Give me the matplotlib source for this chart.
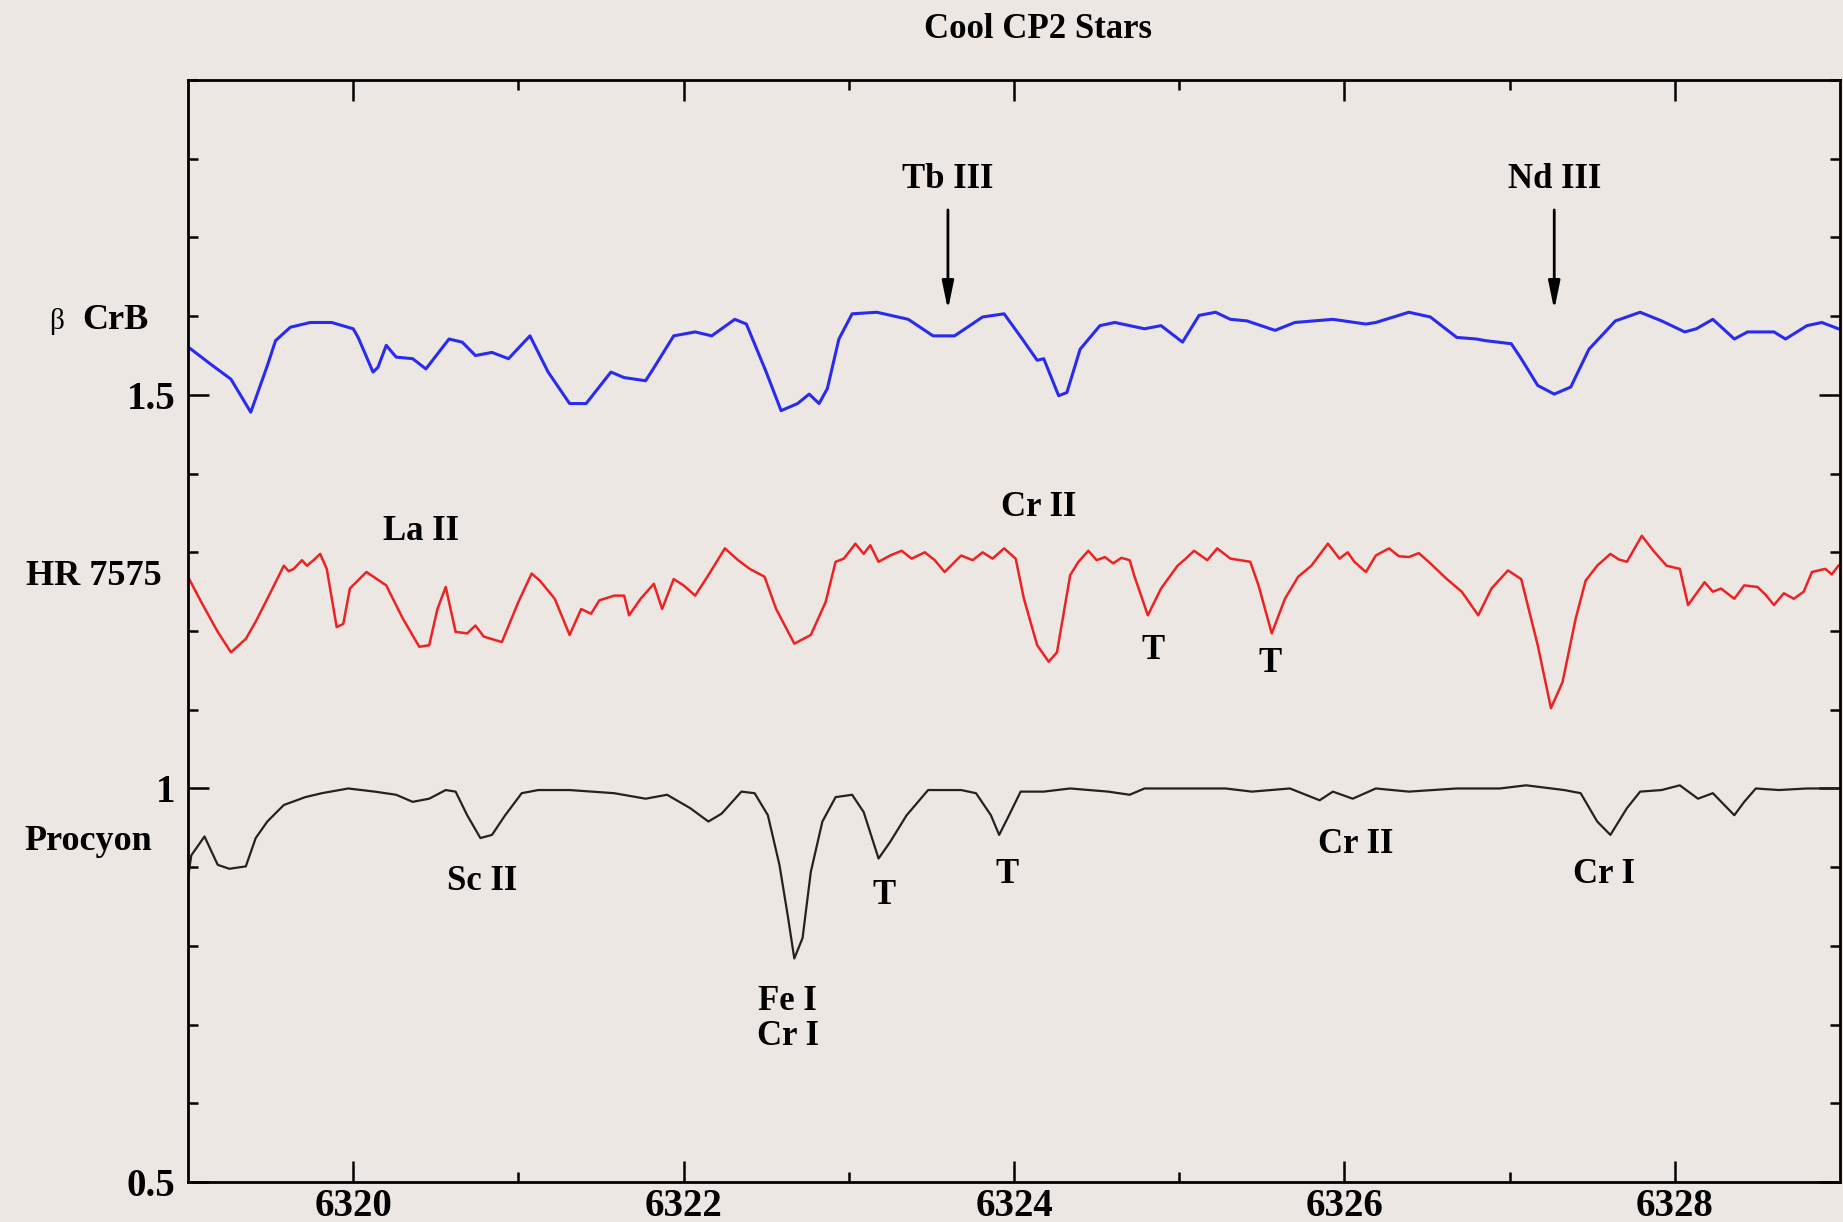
import matplotlib
matplotlib.use("Agg")
import matplotlib.pyplot as plt
from matplotlib.ticker import MultipleLocator, FixedLocator

# beta CrB (blue, offset spectrum)
blue_wl = [6319.00, 6319.15, 6319.26, 6319.38, 6319.48, 6319.53, 6319.62, 6319.74,
           6319.87, 6320.00, 6320.03, 6320.12, 6320.15, 6320.20, 6320.26, 6320.36,
           6320.44, 6320.58, 6320.66, 6320.74, 6320.84, 6320.94, 6321.07, 6321.18,
           6321.31, 6321.41, 6321.56, 6321.64, 6321.77, 6321.81, 6321.94, 6322.07,
           6322.17, 6322.31, 6322.38, 6322.50, 6322.59, 6322.69, 6322.76, 6322.82,
           6322.87, 6322.94, 6323.02, 6323.17, 6323.36, 6323.51, 6323.64, 6323.81,
           6323.94, 6324.05, 6324.14, 6324.18, 6324.27, 6324.32, 6324.40, 6324.52,
           6324.61, 6324.79, 6324.89, 6325.02, 6325.12, 6325.22, 6325.31, 6325.41,
           6325.58, 6325.70, 6325.93, 6326.13, 6326.19, 6326.39, 6326.52, 6326.68,
           6326.80, 6326.85, 6327.01, 6327.07, 6327.17, 6327.27, 6327.37, 6327.48,
           6327.64, 6327.79, 6327.92, 6328.06, 6328.13, 6328.23, 6328.36, 6328.44,
           6328.60, 6328.67, 6328.80, 6328.89, 6328.99]
blue_flux = [1.561, 1.537, 1.520, 1.478, 1.537, 1.569, 1.586, 1.592,
             1.592, 1.584, 1.573, 1.529, 1.535, 1.563, 1.548, 1.546,
             1.533, 1.571, 1.567, 1.550, 1.554, 1.546, 1.575, 1.529,
             1.489, 1.489, 1.529, 1.522, 1.518, 1.531, 1.575, 1.580,
             1.575, 1.596, 1.590, 1.529, 1.480, 1.489, 1.501, 1.489,
             1.508, 1.571, 1.603, 1.605, 1.596, 1.575, 1.575, 1.599,
             1.603, 1.571, 1.544, 1.546, 1.499, 1.503, 1.558, 1.588,
             1.592, 1.584, 1.588, 1.567, 1.601, 1.605, 1.596, 1.594,
             1.582, 1.592, 1.596, 1.590, 1.592, 1.605, 1.599, 1.573,
             1.571, 1.569, 1.565, 1.546, 1.512, 1.501, 1.510, 1.558,
             1.594, 1.605, 1.594, 1.580, 1.584, 1.596, 1.571, 1.580,
             1.580, 1.571, 1.588, 1.592, 1.584]

# HR 7575 (red)
red_wl = [6319.00, 6319.08, 6319.18, 6319.26, 6319.35, 6319.41, 6319.49, 6319.58,
          6319.61, 6319.64, 6319.69, 6319.72, 6319.76, 6319.80, 6319.84, 6319.90,
          6319.94, 6319.98, 6320.08, 6320.20, 6320.30, 6320.40, 6320.46, 6320.51,
          6320.56, 6320.62, 6320.69, 6320.74, 6320.79, 6320.90, 6321.00, 6321.08,
          6321.13, 6321.22, 6321.31, 6321.38, 6321.44, 6321.49, 6321.58, 6321.64,
          6321.67, 6321.74, 6321.82, 6321.87, 6321.94, 6322.00, 6322.07, 6322.15,
          6322.25, 6322.33, 6322.40, 6322.49, 6322.56, 6322.67, 6322.77, 6322.86,
          6322.92, 6322.97, 6323.04, 6323.09, 6323.13, 6323.18, 6323.25, 6323.32,
          6323.38, 6323.46, 6323.52, 6323.58, 6323.68, 6323.75, 6323.81, 6323.87,
          6323.94, 6324.01, 6324.06, 6324.14, 6324.21, 6324.26, 6324.34, 6324.39,
          6324.45, 6324.50, 6324.55, 6324.60, 6324.65, 6324.70, 6324.73, 6324.81,
          6324.89, 6324.99, 6325.04, 6325.09, 6325.17, 6325.23, 6325.31, 6325.43,
          6325.48, 6325.56, 6325.64, 6325.72, 6325.80, 6325.90, 6325.97, 6326.02,
          6326.06, 6326.13, 6326.19, 6326.27, 6326.33, 6326.39, 6326.45, 6326.52,
          6326.62, 6326.71, 6326.81, 6326.89, 6326.99, 6327.07, 6327.17, 6327.25,
          6327.32, 6327.40, 6327.46, 6327.53, 6327.61, 6327.66, 6327.71, 6327.80,
          6327.87, 6327.95, 6328.03, 6328.08, 6328.18, 6328.23, 6328.28, 6328.36,
          6328.42, 6328.50, 6328.55, 6328.60, 6328.66, 6328.72, 6328.78, 6328.83,
          6328.91, 6328.95, 6328.99]
red_flux = [1.269, 1.237, 1.199, 1.173, 1.190, 1.212, 1.245, 1.283,
            1.276, 1.279, 1.290, 1.283, 1.290, 1.298, 1.279, 1.205,
            1.209, 1.254, 1.275, 1.258, 1.216, 1.180, 1.182, 1.228,
            1.256, 1.199, 1.197, 1.207, 1.193, 1.186, 1.237, 1.273,
            1.264, 1.241, 1.195, 1.228, 1.222, 1.239, 1.245, 1.245,
            1.220, 1.241, 1.260, 1.228, 1.266, 1.258, 1.245, 1.271,
            1.305, 1.290, 1.279, 1.269, 1.228, 1.184, 1.195, 1.237,
            1.288, 1.292, 1.311, 1.298, 1.309, 1.288, 1.296, 1.302,
            1.292, 1.300, 1.290, 1.275, 1.296, 1.290, 1.300, 1.292,
            1.305, 1.292, 1.241, 1.182, 1.161, 1.173, 1.271, 1.288,
            1.302, 1.290, 1.294, 1.286, 1.293, 1.290, 1.269, 1.220,
            1.254, 1.283, 1.292, 1.302, 1.290, 1.305, 1.292, 1.288,
            1.258, 1.197, 1.241, 1.269, 1.283, 1.311, 1.292, 1.300,
            1.288, 1.275, 1.296, 1.305, 1.295, 1.294, 1.299, 1.286,
            1.266, 1.250, 1.220, 1.254, 1.277, 1.266, 1.182, 1.102,
            1.135, 1.216, 1.264, 1.283, 1.298, 1.291, 1.288, 1.321,
            1.302, 1.283, 1.279, 1.233, 1.262, 1.250, 1.254, 1.241,
            1.258, 1.256, 1.246, 1.233, 1.248, 1.241, 1.250, 1.275,
            1.279, 1.272, 1.283]

# Procyon (black, normalised)
black_wl = [6319.00, 6319.02, 6319.10, 6319.18, 6319.25, 6319.35, 6319.41, 6319.48,
            6319.58, 6319.71, 6319.81, 6319.97, 6320.13, 6320.26, 6320.36, 6320.46,
            6320.56, 6320.62, 6320.69, 6320.77, 6320.84, 6320.92, 6321.02, 6321.12,
            6321.31, 6321.58, 6321.77, 6321.90, 6322.04, 6322.15, 6322.23, 6322.35,
            6322.43, 6322.51, 6322.58, 6322.63, 6322.67, 6322.72, 6322.77, 6322.84,
            6322.92, 6323.02, 6323.09, 6323.18, 6323.25, 6323.35, 6323.48, 6323.68,
            6323.77, 6323.86, 6323.91, 6323.97, 6324.04, 6324.18, 6324.34, 6324.57,
            6324.70, 6324.79, 6325.02, 6325.28, 6325.44, 6325.67, 6325.85, 6325.93,
            6326.05, 6326.19, 6326.39, 6326.68, 6326.94, 6327.10, 6327.33, 6327.43,
            6327.53, 6327.61, 6327.71, 6327.79, 6327.92, 6328.03, 6328.14, 6328.23,
            6328.36, 6328.42, 6328.49, 6328.63, 6328.80, 6328.99]
black_flux = [0.886, 0.915, 0.939, 0.903, 0.898, 0.901, 0.937, 0.958,
              0.979, 0.989, 0.994, 1.000, 0.996, 0.992, 0.983, 0.987,
              0.998, 0.996, 0.966, 0.937, 0.941, 0.966, 0.994, 0.998,
              0.998, 0.994, 0.987, 0.992, 0.975, 0.958, 0.968, 0.996,
              0.994, 0.966, 0.903, 0.839, 0.784, 0.810, 0.894, 0.958,
              0.989, 0.992, 0.970, 0.911, 0.932, 0.966, 0.998, 0.998,
              0.994, 0.966, 0.941, 0.966, 0.996, 0.996, 1.000, 0.996,
              0.992, 1.000, 1.000, 1.000, 0.996, 1.000, 0.985, 0.996,
              0.987, 1.000, 0.996, 1.000, 1.000, 1.004, 0.998, 0.994,
              0.958, 0.941, 0.975, 0.996, 0.998, 1.004, 0.987, 0.994,
              0.966, 0.983, 1.000, 0.998, 1.000, 1.000]

# line identifications
line_labels = ["La II", "Cr II", "T", "T", "Sc II", "T", "T", "Fe I\nCr I", "Cr II", "Cr I"]
line_wl = [6320.41, 6324.15, 6324.84, 6325.55, 6320.78, 6323.21, 6323.96, 6322.63, 6326.07, 6327.57]
line_y = [1.327, 1.357, 1.175, 1.159, 0.882, 0.864, 0.891, 0.707, 0.929, 0.891]

arrow_labels = ["Tb III", "Nd III"]
arrow_wl = [6323.60, 6327.27]

star_names = ["CrB", "HR 7575", "Procyon"]
star_y = [1.595, 1.269, 0.933]

bg = "#ece7e3"
serif = ["Liberation Serif", "DejaVu Serif"]

fig = plt.figure(figsize=(18.43, 12.22), dpi=100, facecolor=bg)
ax = fig.add_axes([0.102, 0.0327, 0.8964, 0.9018], facecolor=bg)

ax.plot(blue_wl, blue_flux, color="#2a2af0", lw=2.2)
ax.plot(red_wl, red_flux, color="#ee2222", lw=1.8)
ax.plot(black_wl, black_flux, color="#222222", lw=1.6)

ax.set_xlim(6319, 6329)
ax.set_ylim(0.5, 1.9)

ax.xaxis.set_major_locator(MultipleLocator(2))
ax.xaxis.set_minor_locator(FixedLocator([6321, 6323, 6325, 6327]))
ax.yaxis.set_major_locator(FixedLocator([0.5, 1.0, 1.5]))
ax.yaxis.set_minor_locator(MultipleLocator(0.1))
ax.set_yticklabels(["0.5", "1", "1.5"])

ax.tick_params(which="both", direction="in", top=True, right=True, width=1.8, color="black")
ax.tick_params(which="major", length=15)
ax.tick_params(which="minor", length=7)
ax.tick_params(axis="x", pad=4)
ax.tick_params(axis="y", pad=9)
for lab in ax.get_xticklabels() + ax.get_yticklabels():
    lab.set_fontfamily(serif)
    lab.set_fontweight("bold")
    lab.set_fontsize(28)
for sp in ax.spines.values():
    sp.set_linewidth(2)

txt = dict(fontfamily=serif, fontweight="bold", fontsize=25, ha="center", va="center")
for lab, x, y in zip(line_labels, line_wl, line_y):
    ax.text(x, y, lab, linespacing=1.1, **txt)

for lab, x in zip(arrow_labels, arrow_wl):
    ax.text(x, 1.774, lab, **txt)
    ax.annotate("", xy=(x, 1.608), xytext=(x, 1.735),
                arrowprops=dict(arrowstyle="-|>,head_length=1.7,head_width=0.35",
                                color="black", lw=2, shrinkA=0, shrinkB=0))

# star names at the left of the axes
ytr = ax.get_yaxis_transform()
name_x = [-0.0442, -0.057, -0.0605]
for name, x, y in zip(star_names, name_x, star_y):
    ax.text(x, y, name, transform=ytr, ha="center", va="center",
            fontfamily=serif, fontweight="bold", fontsize=26, clip_on=False)
ax.text(-0.0795, 1.593, "\u03b2", transform=ytr, ha="center", va="center",
        fontfamily=serif, fontsize=21, clip_on=False)

fig.text(0.563, 0.976, "Cool CP2 Stars", ha="center", va="center",
         fontfamily=serif, fontweight="bold", fontsize=25)

fig.savefig("out.png", dpi=100, facecolor=bg)
